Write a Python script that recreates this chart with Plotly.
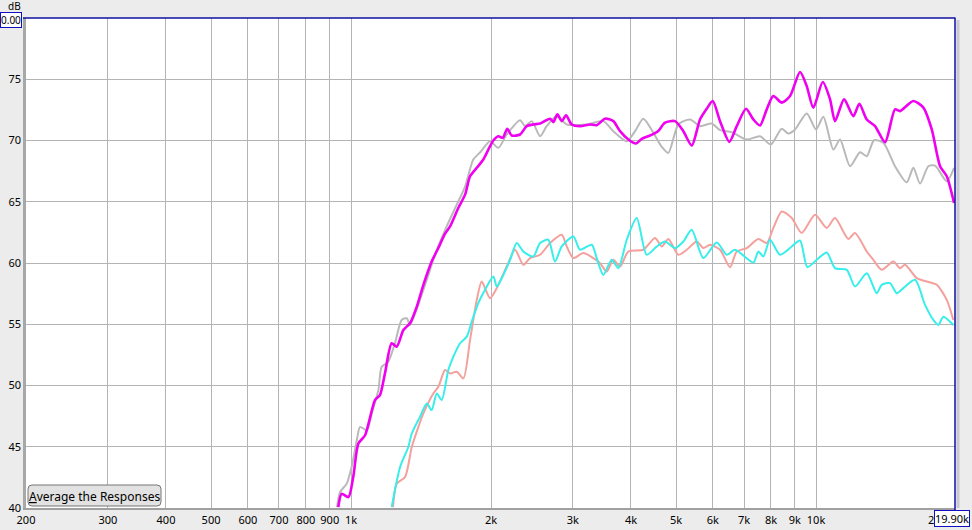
import math
import plotly.graph_objects as go

# ---------------- data ----------------
freq_magenta = [939, 955, 987, 1011, 1037, 1072, 1126, 1154, 1183, 1223, 1254, 1296, 1339, 1385, 1431, 1491, 1541, 1593, 1633, 1701,
                1759, 1803, 1864, 1925, 1974, 2023, 2074, 2120, 2168, 2216, 2309, 2387, 2466, 2550, 2679, 2723, 2778, 2839, 2900, 2983,
                3108, 3266, 3376, 3518, 3665, 3789, 3948, 4101, 4219, 4396, 4573, 4735, 4975, 5184, 5404, 5630, 5820, 5996, 6217, 6510,
                6753, 7071, 7331, 7578, 7834, 8094, 8438, 8792, 9238, 9550, 9867, 10337, 10718, 10987, 11488, 12029, 12392, 12855, 13394, 14074,
                14788, 15159, 16191, 17013, 17736, 18480, 19103, 19806]
db_magenta = [40.07, 41.17, 40.89, 42.53, 45.26, 45.94, 48.81, 49.21, 50.99, 53.45, 53.17, 54.53, 55.08, 56.44, 58.22, 60.12, 61.22, 62.39, 62.99, 64.49,
              65.58, 67.08, 67.77, 68.45, 69.26, 70.0, 70.35, 70.22, 70.96, 70.41, 70.49, 71.17, 71.31, 71.39, 71.78, 71.50, 72.13, 71.58, 72.05, 71.31,
              71.17, 71.31, 71.25, 71.78, 71.58, 70.76, 70.08, 69.75, 70.14, 70.41, 70.76, 71.45, 71.58, 70.76, 69.59, 71.72, 72.59, 73.22, 71.58, 69.89,
              71.17, 72.59, 71.72, 71.23, 72.54, 73.63, 73.09, 73.63, 75.59, 74.44, 72.68, 74.77, 73.36, 71.58, 73.36, 71.99, 73.00, 71.72, 71.17, 69.86,
              72.54, 72.40, 73.22, 72.68, 70.90, 67.90, 67.08, 64.90]

freq_gray = [933, 947, 979, 1003, 1029, 1046, 1081, 1108, 1145, 1164, 1201, 1243, 1285, 1318, 1339, 1407, 1455, 1529, 1606, 1688,
             1759, 1832, 1894, 1990, 2074, 2162, 2309, 2367, 2447, 2550, 2635, 2769, 2910, 3213, 3488, 3665, 3917, 4081, 4252, 4468,
             4658, 4813, 5057, 5358, 5630, 5966, 6217, 6588, 7095, 7578, 7991, 8438, 8718, 9012, 9550, 10000, 10368, 10895, 11263, 11834,
             12435, 12855, 13328, 13956, 14788, 15671, 16191, 16738, 17440, 18028, 19103, 19806]
db_gray = [40.07, 41.30, 41.99, 43.35, 45.53, 46.62, 46.35, 47.72, 49.62, 51.53, 51.91, 53.45, 55.35, 55.49, 54.94, 56.99, 58.63, 61.08, 62.99, 64.76,
           66.24, 68.45, 69.02, 69.94, 69.40, 70.49, 71.66, 71.17, 71.58, 70.35, 71.17, 71.99, 71.31, 71.31, 71.58, 70.76, 69.94, 70.76, 71.78, 70.63,
           69.48, 68.99, 71.31, 71.72, 71.17, 71.39, 70.84, 70.68, 70.08, 70.35, 69.67, 70.96, 70.57, 70.90, 72.21, 70.90, 71.94, 69.26, 70.08, 67.90,
           69.04, 68.72, 70.02, 69.81, 67.90, 66.59, 67.77, 66.48, 67.90, 67.95, 66.67, 67.77]

freq_cyan = [1223, 1275, 1328, 1351, 1407, 1455, 1491, 1529, 1567, 1619, 1660, 1716, 1774, 1818, 1878, 1942, 2023, 2058, 2109, 2198,
             2272, 2347, 2466, 2550, 2656, 2746, 2839, 3007, 3108, 3293, 3376, 3488, 3636, 3757, 3917, 4115, 4324, 4544, 4735, 4975,
             5184, 5404, 5723, 6116, 6426, 6696, 7331, 7515, 7703, 7963, 8367, 8867, 9238, 9578, 10035, 10544, 10987, 11642, 12131, 12855,
             13507, 13846, 14426, 14913, 15409, 16328, 17157, 17876, 18324, 18784, 19738]
db_cyan = [40.07, 43.35, 44.98, 46.08, 47.44, 48.54, 47.99, 49.35, 48.81, 51.26, 52.35, 53.45, 53.99, 55.21, 56.72, 57.81, 58.90, 58.08, 58.76, 60.26,
           61.63, 60.94, 60.53, 61.63, 61.90, 60.12, 61.35, 62.17, 61.08, 61.49, 60.40, 59.03, 60.26, 59.58, 61.90, 63.67, 60.67, 61.35, 61.76, 61.22,
           61.76, 62.72, 60.40, 61.68, 60.67, 61.08, 60.04, 60.94, 60.53, 61.90, 60.67, 61.35, 61.84, 59.66, 60.26, 60.86, 59.58, 59.44, 58.08, 59.17,
           57.54, 58.22, 58.36, 57.54, 57.95, 58.63, 56.58, 55.35, 54.94, 55.62, 54.94]

freq_salmon = [1231, 1254, 1307, 1351, 1396, 1431, 1503, 1541, 1593, 1633, 1688, 1744, 1803, 1864, 1910, 1990, 2058, 2162, 2253, 2347,
               2426, 2550, 2679, 2839, 2910, 3007, 3159, 3320, 3431, 3547, 3665, 3789, 3948, 4252, 4506, 4658, 4813, 5057, 5272, 5539,
               5723, 5916, 6217, 6532, 6753, 7095, 7515, 7834, 8094, 8438, 8867, 9316, 9951, 10544, 10987, 11735, 12131, 12855, 13282, 13846,
               14664, 15159, 15539, 16466, 17302, 18180, 19103, 19738]
db_salmon = [40.07, 41.99, 42.53, 44.98, 46.62, 47.72, 49.35, 49.89, 51.26, 50.99, 51.12, 50.58, 53.72, 56.99, 58.49, 57.13, 57.95, 59.71, 61.08, 59.85,
             60.40, 60.67, 61.63, 62.31, 61.35, 60.40, 60.81, 60.40, 59.99, 59.30, 60.26, 59.71, 60.94, 61.08, 62.04, 61.35, 61.96, 60.67, 61.08, 61.76,
             61.22, 61.49, 61.08, 59.66, 60.94, 61.22, 61.96, 61.63, 62.86, 64.21, 63.67, 62.45, 63.94, 62.86, 63.67, 61.96, 62.45, 60.94, 60.26, 59.44,
             60.12, 59.58, 59.85, 58.76, 58.49, 58.22, 56.99, 55.35]

x_tick_vals = [200, 300, 400, 500, 600, 700, 800, 900, 1000, 2000, 3000, 4000, 5000, 6000, 7000, 8000, 9000, 10000]
x_tick_text = ["200", "300", "400", "500", "600", "700", "800", "900", "1k", "2k", "3k", "4k", "5k", "6k", "7k", "8k", "9k", "10k"]
y_tick_vals = [40, 45, 50, 55, 60, 65, 70, 75]
y_tick_text = ["40", "45", "50", "55", "60", "65", "70", "75"]
x_min, x_max = 200, 19900
y_min, y_max = 40, 80

# ---------------- layout geometry ----------------
W, H = 972, 530
L, R, T, B = 26, 955, 18, 508
FONT = "Noto Sans"


def px(xp):
    return (xp - L) / (R - L)


def py(yp):
    return (B - yp) / (B - T)


fig = go.Figure()

series = [
    (freq_gray, db_gray, "#b9b9b9", 2.0),
    (freq_salmon, db_salmon, "#f4a09c", 2.0),
    (freq_cyan, db_cyan, "#36eeea", 2.0),
    (freq_magenta, db_magenta, "#f000f0", 2.6),
]
for fx, fy, col, w in series:
    fig.add_trace(go.Scatter(x=fx, y=fy, mode="lines",
                             line=dict(color=col, width=w, shape="spline", smoothing=0.7),
                             showlegend=False, hoverinfo="skip"))

fig.update_xaxes(type="log", range=[math.log10(x_min), math.log10(x_max)],
                 tickvals=x_tick_vals, ticktext=x_tick_text, automargin=False,
                 showgrid=True, gridcolor="#b4b4b4", gridwidth=1,
                 zeroline=False, showline=False, ticks="",
                 tickfont=dict(family=FONT, size=11, color="#000000"),
                 ticklabelstandoff=4)
fig.update_yaxes(range=[y_min, y_max], tickvals=y_tick_vals, ticktext=y_tick_text, automargin=False,
                 showgrid=True, gridcolor="#b4b4b4", gridwidth=1,
                 zeroline=False, showline=False, ticks="",
                 tickfont=dict(family=FONT, size=11, color="#000000"),
                 ticklabelstandoff=4)

shapes = [
    # left shadow and bottom shadow
    dict(type="line", xref="paper", yref="paper", x0=px(24.5), x1=px(24.5), y0=py(B + 2), y1=py(T), line=dict(color="#a8a8a8", width=3)),
    dict(type="line", xref="paper", yref="paper", x0=px(L - 3), x1=px(R), y0=py(B + 1), y1=py(B + 1), line=dict(color="#a0a0a0", width=2)),
    # right light shadow
    dict(type="line", xref="paper", yref="paper", x0=px(R + 3), x1=px(R + 3), y0=py(B), y1=py(T + 2), line=dict(color="#c8c8d4", width=3)),
    # top and right blue frame
    dict(type="line", xref="paper", yref="paper", x0=px(23), x1=px(R + 0.5), y0=py(T), y1=py(T), line=dict(color="#1010a0", width=1.5)),
    dict(type="line", xref="paper", yref="paper", x0=px(R), x1=px(R), y0=py(T), y1=py(B + 2), line=dict(color="#1010a0", width=1.5)),
]

# rounded button "Average the Responses"
bx0, bx1, by0, by1, rr = 28, 161, 485, 506, 4
X0, X1 = px(bx0), px(bx1)
Y0, Y1 = py(by1), py(by0)
rx = rr / (R - L)
ry = rr / (B - T)
path = (f"M {X0 + rx},{Y0} L {X1 - rx},{Y0} Q {X1},{Y0} {X1},{Y0 + ry} L {X1},{Y1 - ry} "
        f"Q {X1},{Y1} {X1 - rx},{Y1} L {X0 + rx},{Y1} Q {X0},{Y1} {X0},{Y1 - ry} L {X0},{Y0 + ry} "
        f"Q {X0},{Y0} {X0 + rx},{Y0} Z")
shapes.append(dict(type="path", xref="paper", yref="paper", path=path,
                   fillcolor="#e2e2e2", line=dict(color="#767676", width=1)))

annotations = [
    dict(text="<u>A</u>verage the Responses", xref="paper", yref="paper",
         x=px((bx0 + bx1) / 2), y=py((by0 + by1) / 2 + 0.5), xanchor="center", yanchor="middle",
         showarrow=False, font=dict(family=FONT, size=12, color="#000000")),
    dict(text="dB", xref="paper", yref="paper", x=px(23), y=py(5.5), xanchor="right", yanchor="middle",
         showarrow=False, font=dict(family=FONT, size=10, color="#000000")),
    dict(text="0.00", xref="paper", yref="paper", x=px(0), y=py(19.5), xanchor="left", yanchor="middle",
         showarrow=False, font=dict(family=FONT, size=10, color="#000000"),
         bgcolor="#ffffff", bordercolor="#1010c0", borderwidth=1, borderpad=0),
    dict(text="2", xref="paper", yref="paper", x=px(936), y=py(519), xanchor="right", yanchor="middle",
         showarrow=False, font=dict(family=FONT, size=11, color="#000000")),
    dict(text="19.90k", xref="paper", yref="paper", x=px(970), y=py(518), xanchor="right", yanchor="middle",
         showarrow=False, font=dict(family=FONT, size=11, color="#000000"),
         bgcolor="#ffffff", bordercolor="#1010c0", borderwidth=1, borderpad=0),
]

fig.update_layout(width=W, height=H, margin=dict(l=L, r=W - R, t=T, b=H - B, pad=0, autoexpand=False),
                  paper_bgcolor="#ececec", plot_bgcolor="#ffffff",
                  shapes=shapes, annotations=annotations, showlegend=False)

fig.write_html("out.html", config={"displayModeBar": False, "staticPlot": True},
               post_script="document.body.style.margin='0';document.body.style.overflow='hidden';")
